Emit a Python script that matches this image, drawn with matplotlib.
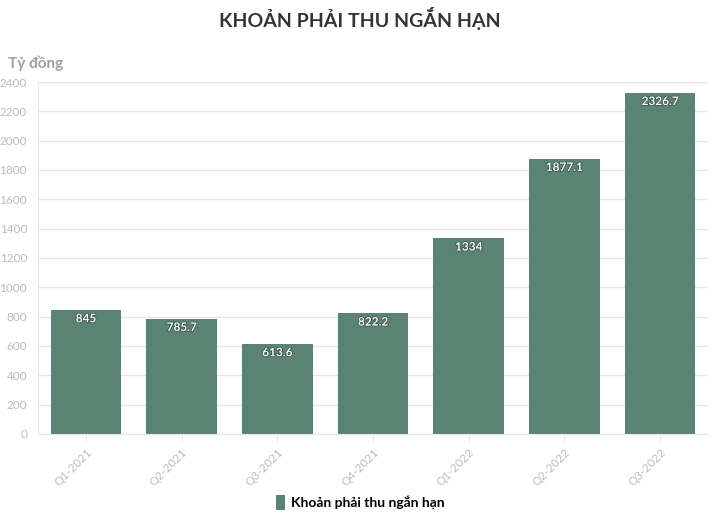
import matplotlib.pyplot as plt
import matplotlib.patheffects as pe
from matplotlib.patches import Patch

plt.rcParams['font.family'] = ['Lato', 'DejaVu Sans']

categories = ['Q1-2021', 'Q2-2021', 'Q3-2021', 'Q4-2021', 'Q1-2022', 'Q2-2022', 'Q3-2022']
values = [845, 785.7, 613.6, 822.2, 1334, 1877.1, 2326.7]
labels = ['845', '785.7', '613.6', '822.2', '1334', '1877.1', '2326.7']
yticks = list(range(0, 2401, 200))

bar_color = '#5b8373'
grid_color = '#e6e6e6'
tick_color = '#bbbbbb'

fig = plt.figure(figsize=(7.2, 5.19), dpi=100)
ax = fig.add_axes([0.053, 0.164, 0.93, 0.678])

x = range(len(categories))
bars = ax.bar(x, values, width=0.74, color=bar_color, zorder=2)

for b, lab in zip(bars, labels):
    ax.text(b.get_x() + b.get_width() / 2, b.get_height() - 60, lab,
            ha='center', va='center', color='white', fontsize=8.5, fontweight='bold',
            path_effects=[pe.withStroke(linewidth=1.0, foreground='#2f4a40')], zorder=3)

ax.set_xlim(-0.5, len(categories) - 0.5)
ax.set_ylim(0, 2400)
ax.set_yticks(yticks)
ax.set_yticklabels([str(t) for t in yticks], color=tick_color, fontsize=8.5)
ax.set_xticks(list(x))
ax.set_xticklabels(categories, rotation=45, ha='right', rotation_mode='anchor',
                   color=tick_color, fontsize=8.5)
ax.yaxis.grid(True, color=grid_color, linewidth=1, zorder=0)
ax.tick_params(axis='y', length=0, pad=8)
ax.tick_params(axis='x', length=5, color=grid_color, pad=4)
for s in ['top', 'right']:
    ax.spines[s].set_visible(False)
ax.spines['left'].set_color(grid_color)
ax.spines['bottom'].set_color(grid_color)

fig.text(0.5, 0.965, 'KHOẢN PHẢI THU NGẮN HẠN', ha='center', va='center',
         fontsize=14, fontweight='bold', color='#333333')
fig.text(0.011, 0.878, 'Tỷ đồng', ha='left', va='center',
         fontsize=11, fontweight='bold', color='#a0a0a0')

fig.legend(handles=[Patch(facecolor=bar_color, label='Khoản phải thu ngắn hạn')],
           loc='center', bbox_to_anchor=(0.5, 0.032), frameon=False,
           handlelength=0.7, handleheight=1.2, handletextpad=0.4,
           prop={'weight': 'bold', 'size': 10})

fig.savefig('out.png', dpi=100)
